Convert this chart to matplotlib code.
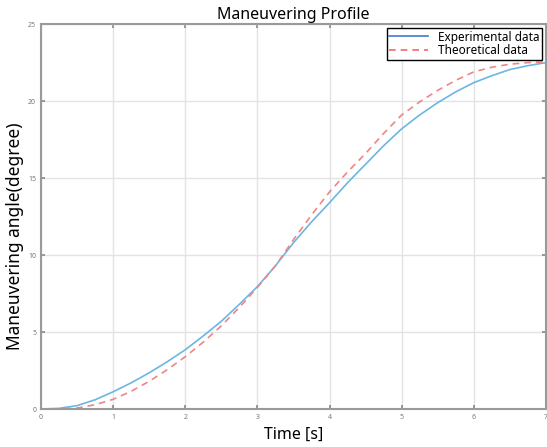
import numpy as np
import matplotlib
matplotlib.use("Agg")
import matplotlib.pyplot as plt

time_s = [0, 0.25, 0.5, 0.75, 1.0, 1.25, 1.5, 1.75, 2.0, 2.25, 2.5, 2.75, 3.0,
          3.25, 3.5, 3.75, 4.0, 4.25, 4.5, 4.75, 5.0, 5.25, 5.5, 5.75, 6.0,
          6.25, 6.5, 6.75, 7.0]
experimental = [0, 0.04, 0.22, 0.6, 1.12, 1.7, 2.35, 3.07, 3.85, 4.75, 5.7,
                6.8, 7.95, 9.3, 10.8, 12.15, 13.4, 14.7, 15.9, 17.1, 18.2,
                19.1, 19.9, 20.6, 21.2, 21.65, 22.05, 22.3, 22.5]
theoretical = [0, 0, 0.06, 0.28, 0.63, 1.15, 1.8, 2.55, 3.4, 4.35, 5.4, 6.6,
               7.9, 9.3, 11.0, 12.6, 14.1, 15.4, 16.6, 17.9, 19.1, 19.95,
               20.7, 21.35, 21.9, 22.2, 22.4, 22.5, 22.55]
x_ticks = [0, 1, 2, 3, 4, 5, 6, 7]
y_ticks = [0, 5, 10, 15, 20, 25]

plt.rcParams['font.family'] = ['Noto Sans', 'DejaVu Sans']

fig = plt.figure(figsize=(5.47, 4.47), dpi=100)
ax = fig.add_axes([0.075, 0.085, 0.923, 0.861])

ax.plot(time_s, experimental, color='#6cb6e2', linewidth=1.2,
        label='Experimental data')
ax.plot(time_s, theoretical, color='#f08585', linewidth=1.2,
        linestyle=(0, (4, 3)), label='Theoretical data')

ax.set_xlim(0, 7)
ax.set_ylim(0, 25)
ax.set_xticks(x_ticks)
ax.set_yticks(y_ticks)
ax.grid(True, color='#e3e3e3', linewidth=1.0)
ax.set_axisbelow(True)
ax.tick_params(direction='in', top=True, right=True, labelsize=5,
               colors='#888888', labelcolor='#777777', length=3, width=1.2)
for s in ax.spines.values():
    s.set_color('#9a9a9a')
    s.set_linewidth(1.5)

ax.set_title('Maneuvering Profile', fontsize=11.5, pad=4)
ax.set_xlabel('Time [s]', fontsize=11.5, labelpad=4)
ax.set_ylabel('Maneuvering angle(degree)', fontsize=12.5)
ax.yaxis.set_label_coords(-0.034, 0.45)

leg = ax.legend(loc='upper right', fontsize=8.5, fancybox=False,
                framealpha=1, edgecolor='black', borderpad=0.2,
                labelspacing=0.05, handlelength=3.3, handletextpad=0.8,
                borderaxespad=0.35)
leg.get_frame().set_linewidth(1.0)
leg.get_lines()[0].set_color('#3d7cc9')
leg.get_lines()[1].set_color('#f06a6a')

plt.savefig('out.png', dpi=100)
